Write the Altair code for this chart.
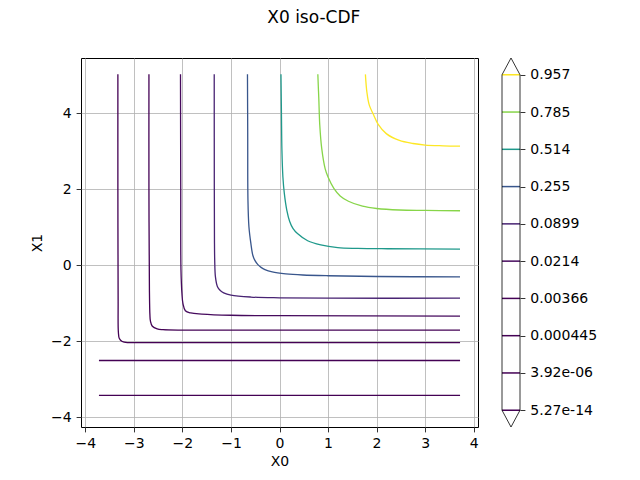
import altair as alt
import pandas as pd

# iso-CDF levels (low to high) and their colorbar labels
levels = [5.27e-14, 3.92e-06, 0.000445, 0.00366, 0.0214, 0.0899, 0.255, 0.514, 0.785, 0.957]
level_labels = ["5.27e-14", "3.92e-06", "0.000445", "0.00366", "0.0214",
                "0.0899", "0.255", "0.514", "0.785", "0.957"]

# contour paths (top end first, then to the right end)
x_c0 = [-3.72, 3.72]
y_c0 = [-3.42, -3.42]
x_c1 = [-3.72, 3.72]
y_c1 = [-2.50, -2.50]
x_c2 = [-3.33, -3.33, -3.325, -3.32, -3.30, -3.24, -3.12, -3.00, -2.00, 3.72]
y_c2 = [5.03, 2.00, -0.91, -1.75, -1.92, -2.00, -2.03, -2.03, -2.03, -2.03]
x_c3 = [-2.69, -2.69, -2.68, -2.67, -2.66, -2.62, -2.52, -2.40, -1.98, -1.00, 3.72]
y_c3 = [5.03, 2.00, -0.65, -1.30, -1.46, -1.60, -1.67, -1.69, -1.70, -1.70, -1.70]
x_c4 = [-2.04, -2.035, -2.03, -2.01, -1.99, -1.94, -1.83, -1.60, -1.00, 0.00, 3.72]
y_c4 = [5.03, 2.00, -0.12, -0.74, -1.00, -1.19, -1.25, -1.28, -1.31, -1.32, -1.33]
x_c5 = [-1.345, -1.343, -1.34, -1.335, -1.32, -1.28, -1.22, -1.15, -1.00, -0.59, 0.00, 1.00, 3.72]
y_c5 = [5.03, 2.00, 0.67, 0.14, -0.30, -0.55, -0.66, -0.72, -0.78, -0.83, -0.85, -0.86, -0.86]
x_c6 = [-0.66, -0.655, -0.65, -0.63, -0.59, -0.55, -0.51, -0.45, -0.38, -0.30, -0.15, 0.13, 0.48, 1.00, 2.00, 3.72]
y_c6 = [5.03, 3.50, 1.72, 1.02, 0.58, 0.27, 0.14, 0.03, -0.05, -0.11, -0.17, -0.22, -0.25, -0.27, -0.29, -0.30]
x_c7 = [0.03, 0.04, 0.05, 0.07, 0.10, 0.15, 0.21, 0.28, 0.37, 0.58, 0.85, 1.20, 1.61, 2.23, 3.72]
y_c7 = [5.03, 4.00, 3.03, 2.33, 1.89, 1.46, 1.16, 0.97, 0.84, 0.65, 0.54, 0.47, 0.45, 0.44, 0.43]
x_c8 = [0.79, 0.80, 0.81, 0.83, 0.87, 0.94, 1.00, 1.12, 1.25, 1.42, 1.71, 2.00, 2.47, 3.00, 3.72]
y_c8 = [5.03, 4.70, 4.39, 3.69, 3.08, 2.55, 2.33, 2.03, 1.83, 1.69, 1.56, 1.50, 1.46, 1.45, 1.44]
x_c9 = [1.77, 1.80, 1.85, 1.94, 2.03, 2.20, 2.47, 2.75, 3.00, 3.37, 3.72]
y_c9 = [5.03, 4.57, 4.22, 3.96, 3.72, 3.47, 3.29, 3.21, 3.17, 3.15, 3.14]

xs_all = [x_c0, x_c1, x_c2, x_c3, x_c4, x_c5, x_c6, x_c7, x_c8, x_c9]
ys_all = [y_c0, y_c1, y_c2, y_c3, y_c4, y_c5, y_c6, y_c7, y_c8, y_c9]

rows = []
for i, (xs, ys) in enumerate(zip(xs_all, ys_all)):
    for k, (xv, yv) in enumerate(zip(xs, ys)):
        rows.append({"lid": i, "level": levels[i], "x": xv, "y": yv, "k": k})
df = pd.DataFrame(rows)

FONT = "DejaVu Sans"
color_scale = alt.Scale(scheme="viridis", domain=[levels[0], levels[-1]])

main = alt.Chart(df).mark_line(strokeWidth=1.3, interpolate="catmull-rom").encode(
    x=alt.X("x:Q", scale=alt.Scale(domain=[-4.09, 4.09], nice=False, zero=False),
            axis=alt.Axis(values=list(range(-4, 5)), title="X0", grid=True, titlePadding=3.5,
                          labelExpr="replace(datum.label, '-', '\u2212')")),
    y=alt.Y("y:Q", scale=alt.Scale(domain=[-4.25, 5.46], nice=False, zero=False),
            axis=alt.Axis(values=[-4, -2, 0, 2, 4], title="X1", grid=True,
                          labelExpr="replace(datum.label, '-', '\u2212')")),
    color=alt.Color("level:Q", scale=color_scale, legend=None),
    detail="lid:N",
    order="k:Q",
).properties(width=397, height=369)

# colorbar
n = len(levels)
ext = 0.05 * (n - 1)
cb_df = pd.DataFrame({"idx": list(range(n)), "level": levels, "x0": [0] * n, "x1": [1] * n})
outline_df = pd.DataFrame({
    "xx": [0.5, 0, 0, 0.5, 1, 1, 0.5],
    "idx": [-ext, 0, n - 1, n - 1 + ext, n - 1, 0, -ext],
    "k": list(range(7)),
})
ys_cb = alt.Scale(domain=[-ext, n - 1 + ext], nice=False, zero=False)
xs_cb = alt.Scale(domain=[0, 1], nice=False, zero=False)
labels_js = "[" + ",".join("'" + s + "'" for s in level_labels) + "]"
cb_axis = alt.Axis(orient="right", values=list(range(n)), title=None, grid=False, domain=False,
                   labelExpr=labels_js + "[datum.value]")

cb_lines = alt.Chart(cb_df).mark_rule(strokeWidth=1.5).encode(
    y=alt.Y("idx:Q", scale=ys_cb, axis=cb_axis),
    x=alt.X("x0:Q", scale=xs_cb, axis=None),
    x2="x1:Q",
    color=alt.Color("level:Q", scale=color_scale, legend=None),
)
cb_outline = alt.Chart(outline_df).mark_line(color="black", strokeWidth=0.8).encode(
    y=alt.Y("idx:Q", scale=ys_cb, axis=cb_axis),
    x=alt.X("xx:Q", scale=xs_cb, axis=None),
    order="k:Q",
)
colorbar = alt.layer(cb_lines, cb_outline).properties(
    width=18, height=369, view=alt.ViewBackground(stroke="transparent"))

chart = alt.hconcat(main, colorbar, spacing=20).properties(
    title=alt.TitleParams("X0 iso-CDF", fontSize=17, fontWeight="normal", anchor="middle",
                          font=FONT, color="black", offset=29),
    padding={"left": 30, "top": 8, "right": 5, "bottom": 5},
).configure(font=FONT).configure_view(
    stroke="black", strokeWidth=1
).configure_axis(
    labelFont=FONT, titleFont=FONT, labelFontSize=14, titleFontSize=14,
    titleFontWeight="normal", labelColor="black", titleColor="black",
    tickColor="black", tickSize=4.9, tickWidth=0.8, labelPadding=4.9,
    titlePadding=5.6, domain=False, gridColor="#b0b0b0", gridWidth=0.8, gridOpacity=1,
)

chart.save("out.html", embed_options={"renderer": "svg", "actions": False})
